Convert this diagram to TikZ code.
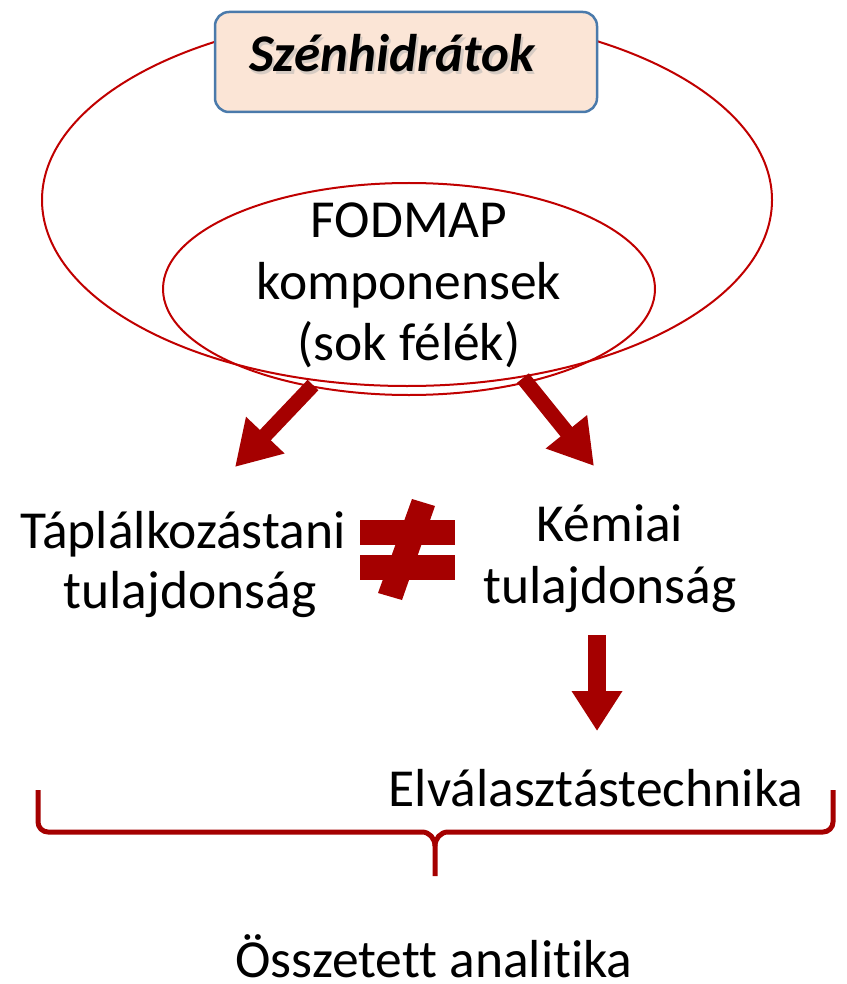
\documentclass[tikz,border=0pt]{standalone}
\usepackage{fontspec}
\setmainfont{Carlito}[Ligatures=NoCommon]
\usetikzlibrary{arrows.meta}
\definecolor{dred}{HTML}{A50000}
\definecolor{ered}{HTML}{C00000}
\definecolor{peach}{HTML}{FBE5D6}
\definecolor{bluebd}{HTML}{4A7AAB}
\tikzset{
  lbl/.style={anchor=base, inner sep=0pt, font=\fontsize{53.5}{62}\selectfont},
  ttl/.style={anchor=base, inner sep=0pt, font=\fontsize{53}{62}\selectfont\bfseries\itshape},
  ell/.style={draw=ered, line width=2pt},
  bigarrow/.style={draw=dred, line width=15pt, -{Triangle[width=50pt,length=44pt]}},
  downarrow/.style={draw=dred, line width=18pt, -{Triangle[width=48pt,length=40pt]}},
  bar/.style={fill=dred, draw=none},
}
\begin{document}
\begin{tikzpicture}[x=1pt,y=-1pt]
\useasboundingbox (0,0) rectangle (846,984);
% ellipses
\draw[ell] (407,200) ellipse [x radius=365, y radius=186];
\draw[ell] (409,289) ellipse [x radius=246, y radius=106];
% title box
\node[draw=bluebd, fill=peach, line width=2.5pt, rounded corners=14pt,
      minimum width=382pt, minimum height=100pt, inner sep=0pt] (box) at (406,62) {};
\node[ttl, text=black!30, opacity=0.5] (shadow) at (394.5,75) {Szénhidrátok};
\node[ttl] (title) at (392,72) {Szénhidrátok};
% inner text
\node[lbl] (fod) at (409,237) {FODMAP};
\node[lbl] (komp) at (409,299) {komponensek};
\node[lbl] (sok) at (409,360) {(sok félék)};
% arrows
\coordinate (a1s) at (313,385);
\coordinate (a1e) at (235,467);
\coordinate (a2s) at (523,378);
\coordinate (a2e) at (594,466);
\draw[bigarrow] (a1s) -- (a1e);
\draw[bigarrow] (a2s) -- (a2e);
% properties
\node[lbl] (tap) at (183,548) {Táplálkozástani};
\node[lbl] (tul1) at (190,608) {tulajdonság};
\node[lbl] (kem) at (610,541) {Kémiai};
\node[lbl] (tul2) at (610,603) {tulajdonság};
% not-equal sign
\fill[bar] (360,520) rectangle (455,545);
\fill[bar] (360,555) rectangle (455,580);
\fill[bar] (412,499) -- (435,506) -- (402,600) -- (378,593) -- cycle;
% down arrow
\coordinate (a3s) at (597,635);
\coordinate (a3e) at (597,731);
\draw[downarrow] (a3s) -- (a3e);
\node[lbl] (elv) at (596,806) {Elválasztástechnika};
% brace
\draw[dred, line width=5pt, line join=round]
  (38,790) -- (38,822) to[out=-90,in=180] (48,832) -- (422,832)
  to[out=0,in=90] (435,846) -- (435,876);
\draw[dred, line width=5pt, line join=round]
  (833,790) -- (833,822) to[out=-90,in=0] (823,832) -- (448,832)
  to[out=180,in=90] (435,846);
\node[lbl] (ossz) at (434,977) {Összetett analitika};
\end{tikzpicture}
\end{document}
